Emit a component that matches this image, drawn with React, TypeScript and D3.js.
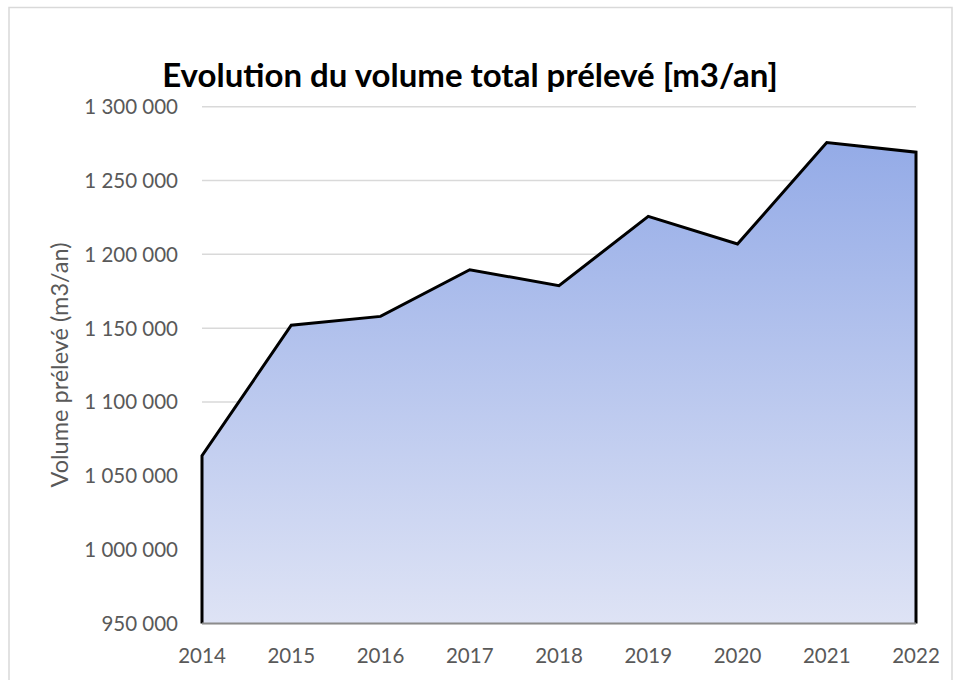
import React from 'react';
import * as d3 from 'd3';

// Data
const years: string[] = ['2014', '2015', '2016', '2017', '2018', '2019', '2020', '2021', '2022'];
const volumes: number[] = [1063600, 1152000, 1158000, 1189600, 1178800, 1225700, 1207000, 1275700, 1269200];
const yTicks: number[] = [950000, 1000000, 1050000, 1100000, 1150000, 1200000, 1250000, 1300000];

const title = 'Evolution du volume total prélevé [m3/an]';
const yTitle = 'Volume prélevé (m3/an)';

const W = 957;
const H = 680;
const margin = { top: 106.7, right: 41, bottom: 56.5, left: 202 };
const font = 'Lato, "Open Sans", sans-serif';

const fmt = (v: number) => d3.format(',')(v).replace(/,/g, ' ');

const App = () => {
  const x = d3
    .scalePoint<string>()
    .domain(years)
    .range([margin.left, W - margin.right])
    .padding(0);

  const y = d3
    .scaleLinear()
    .domain([950000, 1300000])
    .range([H - margin.bottom, margin.top]);

  const pts = years.map((yr, i) => ({ year: yr, value: volumes[i] }));

  const area = d3
    .area<{ year: string; value: number }>()
    .x((d) => x(d.year) ?? 0)
    .y0(y(950000))
    .y1((d) => y(d.value));

  const line = d3
    .line<[number, number]>()
    .x((d) => d[0])
    .y((d) => d[1]);

  // top line plus the two vertical edges of the area
  const outline: [number, number][] = [
    [x(years[0]) ?? 0, y(950000)],
    ...pts.map((d) => [x(d.year) ?? 0, y(d.value)] as [number, number]),
    [x(years[years.length - 1]) ?? 0, y(950000)],
  ];

  const topY = y(d3.max(volumes) ?? 0);

  return (
    <svg
      width={W}
      height={H}
      style={{ position: 'absolute', left: 0, top: 0, background: '#fff' }}
    >
      <defs>
        <linearGradient id="area-grad" gradientUnits="userSpaceOnUse" x1="0" y1={topY} x2="0" y2={y(950000)}>
          <stop offset="0%" stopColor="#94abe7" />
          <stop offset="100%" stopColor="#dee3f5" />
        </linearGradient>
      </defs>

      {/* chart border */}
      <rect x={9} y={7.5} width={943} height={700} fill="none" stroke="#d9d9d9" strokeWidth={1.5} />

      {/* title */}
      <text
        x={470}
        y={87}
        textAnchor="middle"
        fontFamily={font}
        fontWeight="bold"
        fontSize={33}
        fill="#000"
      >
        {title}
      </text>

      {/* gridlines + y labels */}
      {yTicks.map((t) => (
        <g key={t}>
          <line
            x1={margin.left}
            x2={W - margin.right}
            y1={y(t)}
            y2={y(t)}
            stroke="#d9d9d9"
            strokeWidth={1.5}
          />
          <text
            x={178}
            y={y(t)}
            dy="0.36em"
            textAnchor="end"
            fontFamily={font}
            fontSize={20.5}
            fill="#595959"
          >
            {fmt(t)}
          </text>
        </g>
      ))}

      {/* area */}
      <path d={area(pts) ?? ''} fill="url(#area-grad)" />
      <path
        d={line(outline) ?? ''}
        fill="none"
        stroke="#000"
        strokeWidth={3}
        strokeLinejoin="miter"
      />

      {/* x axis line */}
      <line
        x1={margin.left}
        x2={W - margin.right}
        y1={y(950000)}
        y2={y(950000)}
        stroke="#8c8c8c"
        strokeWidth={2}
      />

      {/* x labels */}
      {years.map((yr) => (
        <text
          key={yr}
          x={x(yr) ?? 0}
          y={663}
          textAnchor="middle"
          fontFamily={font}
          fontSize={20.5}
          fill="#595959"
        >
          {yr}
        </text>
      ))}

      {/* y axis title */}
      <text
        transform={`translate(68,365) rotate(-90)`}
        textAnchor="middle"
        fontFamily={font}
        fontSize={23.5}
        fill="#595959"
      >
        {yTitle}
      </text>
    </svg>
  );
};

export default App;
